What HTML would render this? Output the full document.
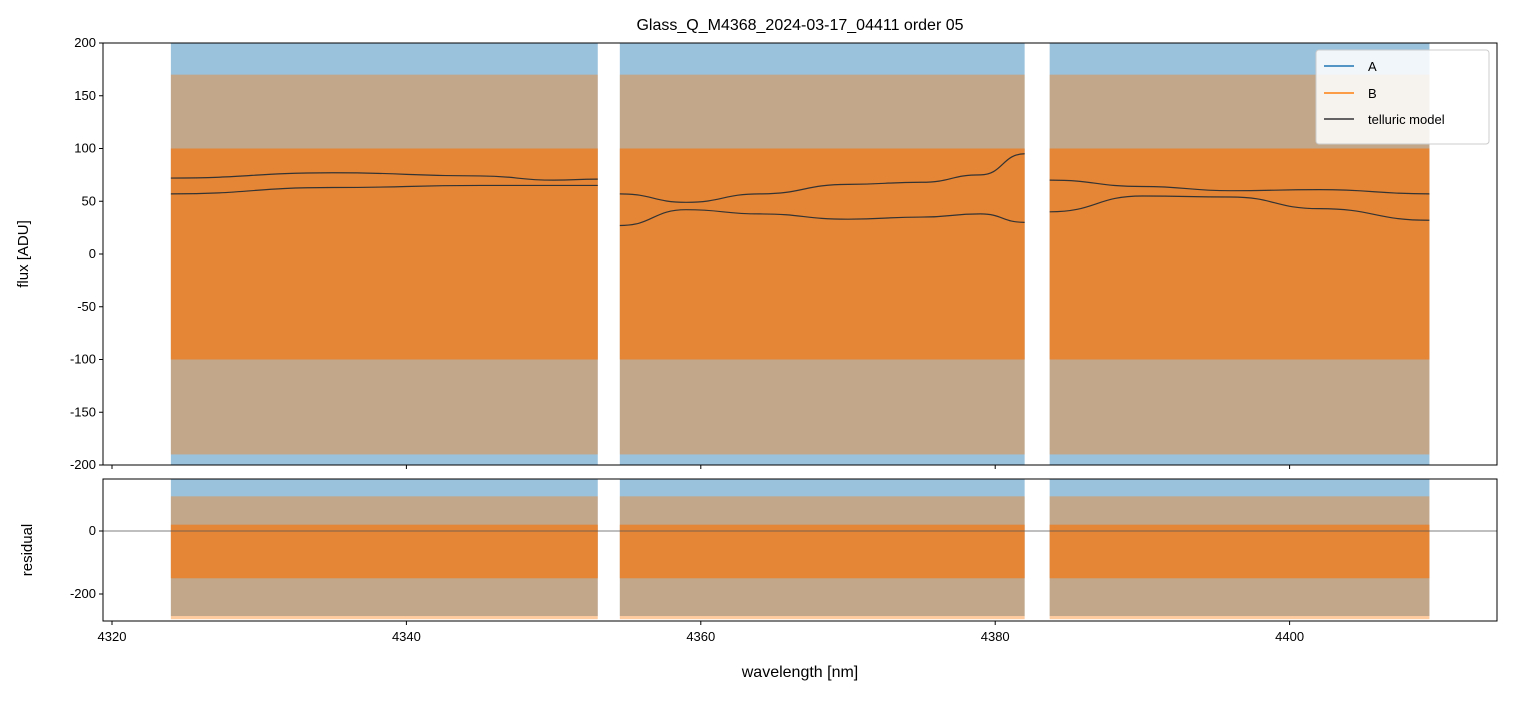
<!DOCTYPE html>
<html><head><meta charset="utf-8"><style>
body{margin:0;background:#fff;font-family:"Liberation Sans",sans-serif}
svg text{font-family:"Liberation Sans",sans-serif;fill:#000}
</style></head><body>
<svg id="c" width="1513" height="696">
<text x="800" y="30" text-anchor="middle" font-size="16">Glass_Q_M4368_2024-03-17_04411  order 05</text>
<text x="28" y="254" text-anchor="middle" font-size="15" transform="rotate(-90 28 254)">flux [ADU]</text>
<text x="32" y="550" text-anchor="middle" font-size="15" transform="rotate(-90 32 550)">residual</text>
<text x="800" y="677" text-anchor="middle" font-size="16">wavelength [nm]</text>
<g id="topPanel"></g>
<g id="botPanel"></g>
<g>
<rect x="1316" y="50" width="173" height="94" fill="#fff" fill-opacity="0.85" stroke="#ccc" rx="3"/>
<line x1="1324" y1="66" x2="1354" y2="66" stroke="#1f77b4" stroke-width="1.5"/>
<text x="1368" y="71" font-size="13">A</text>
<line x1="1324" y1="93" x2="1354" y2="93" stroke="#ff7f0e" stroke-width="1.5"/>
<text x="1368" y="98" font-size="13">B</text>
<line x1="1324" y1="119" x2="1354" y2="119" stroke="#333" stroke-width="1.5"/>
<text x="1368" y="124" font-size="13">telluric model</text>
</g>
</svg>
<script>
const xTicks=[4320,4340,4360,4380,4400];
const yTicksTop=[200,150,100,50,0,-50,-100,-150,-200];
const yTicksBot=[0,-200];
const segments=[[4324.0,4353.0],[4354.5,4382.0],[4383.7,4409.5]];
const bandA=[-200,200];const bandBOuter=[-190,170];const bandBCore=[-100,100];
const resA=[-270,165];const resBOuter=[-280,110];const resBCore=[-150,20];
const tellWave=[[4324,4335,4345,4350,4353],[4354.5,4359,4364,4370,4375,4379,4382],[4383.7,4390,4396,4402,4409.5]];
const tellUpper=[[72,77,74,70,71],[57,49,57,66,68,75,95],[70,64,60,61,57]];
const tellLower=[[57,63,65,65,65],[27,42,38,33,35,38,30],[40,55,54,43,32]];
const NS='http://www.w3.org/2000/svg';
const L=103,R=1497;
const X=v=>112+(v-4320)*14.72;
const Yt=v=>254-v*1.055;
const Yb=v=>531-v*0.315;
function el(p,t,a){const e=document.createElementNS(NS,t);for(const k in a)e.setAttribute(k,a[k]);p.appendChild(e);return e;}
const topG=document.getElementById('topPanel'),botG=document.getElementById('botPanel');
function band(g,Y,r,col,op,name){segments.forEach(s=>{const b=el(g,'rect',{x:X(s[0]),y:Y(r[1]),width:X(s[1])-X(s[0]),height:Y(r[0])-Y(r[1]),fill:col,'fill-opacity':op});

});}
band(topG,Yt,bandA,'#1f77b4',0.45,'series-a-band');
band(topG,Yt,bandBOuter,'#ff7f0e',0.4,'series-b-band');
band(topG,Yt,bandBCore,'#e8822f',0.92,'series-b-core');
function smooth(xs,ys){let d='M'+xs[0]+','+ys[0];for(let i=1;i<xs.length;i++){const mx=(xs[i-1]+xs[i])/2;d+=' C'+mx+','+ys[i-1]+' '+mx+','+ys[i]+' '+xs[i]+','+ys[i];}return d;}
tellWave.forEach((w,i)=>{[tellUpper,tellLower].forEach(arr=>{const p=el(topG,'path',{d:smooth(w.map(X),arr[i].map(Yt)),fill:'none',stroke:'#333','stroke-width':1.2});

});});
el(topG,'rect',{x:L,y:43,width:R-L,height:422,fill:'none',stroke:'#000','stroke-width':1});
yTicksTop.forEach(v=>{el(topG,'line',{x1:L-4,x2:L,y1:Yt(v),y2:Yt(v),stroke:'#000'});const t=el(topG,'text',{x:L-7,y:Yt(v)+4,'text-anchor':'end','font-size':13});t.textContent=v;

});
xTicks.forEach(v=>el(topG,'line',{x1:X(v),x2:X(v),y1:465,y2:469,stroke:'#000'}));
band(botG,Yb,resA,'#1f77b4',0.45,'residual-a-band');
band(botG,Yb,resBOuter,'#ff7f0e',0.4,'residual-b-band');
band(botG,Yb,resBCore,'#e8822f',0.92,'residual-b-core');
el(botG,'line',{x1:L,x2:R,y1:Yb(0),y2:Yb(0),stroke:'#555','stroke-width':0.7});
el(botG,'rect',{x:L,y:479,width:R-L,height:142,fill:'none',stroke:'#000'});
yTicksBot.forEach(v=>{el(botG,'line',{x1:L-4,x2:L,y1:Yb(v),y2:Yb(v),stroke:'#000'});const t=el(botG,'text',{x:L-7,y:Yb(v)+4,'text-anchor':'end','font-size':13});t.textContent=v;

});
xTicks.forEach(v=>{el(botG,'line',{x1:X(v),x2:X(v),y1:621,y2:625,stroke:'#000'});const t=el(botG,'text',{x:X(v),y:641,'text-anchor':'middle','font-size':13});t.textContent=v;

});
</script>
</body></html>
